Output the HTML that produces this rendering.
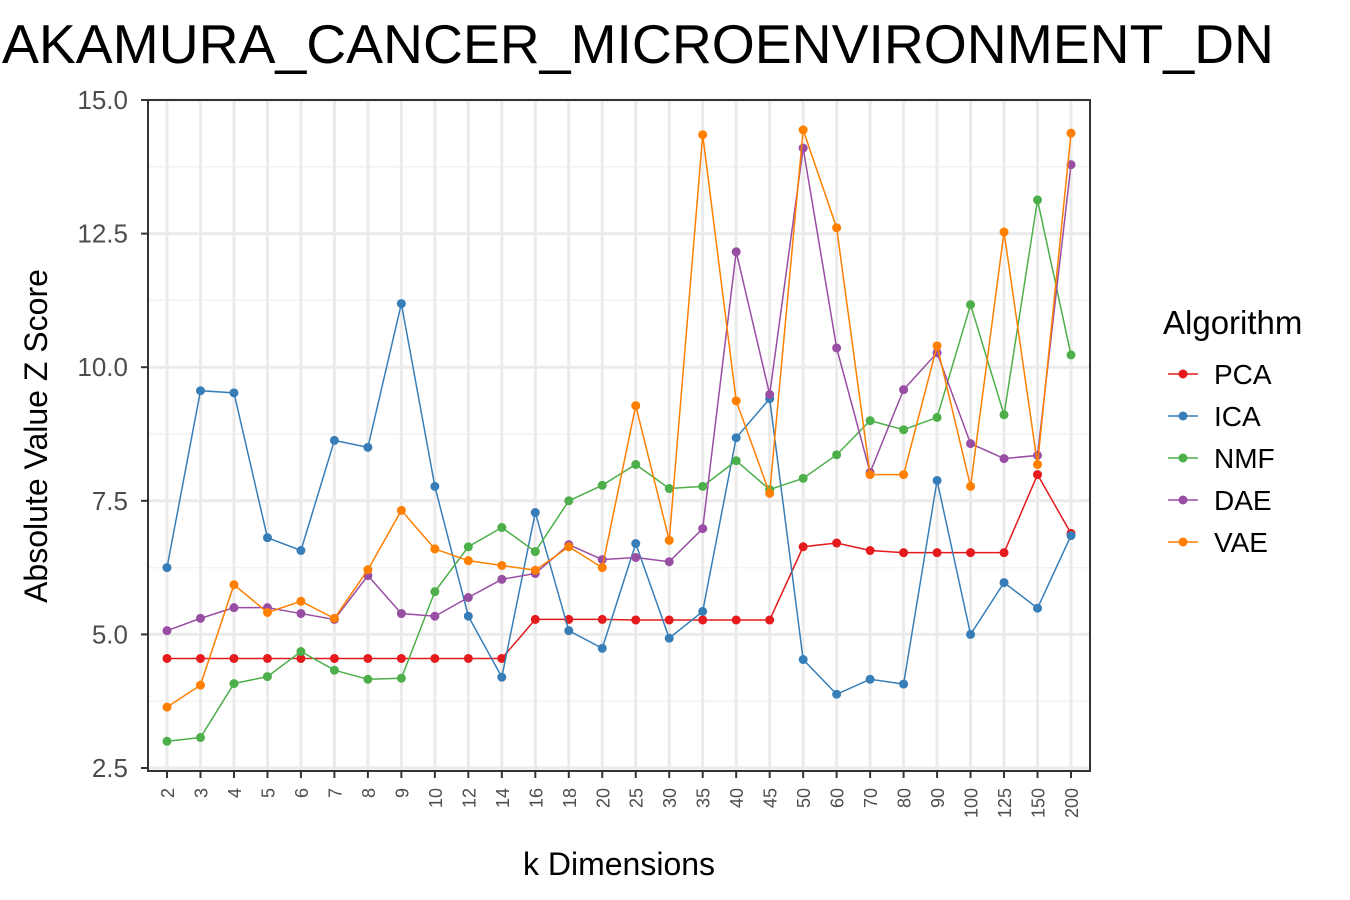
<!DOCTYPE html>
<html><head><meta charset="utf-8"><style>
html,body{margin:0;padding:0;background:#fff;}
svg{display:block;font-family:"Liberation Sans",Arial,sans-serif;}
</style></head><body>
<svg id="chart" width="1350" height="900" viewBox="0 0 1350 900" xmlns="http://www.w3.org/2000/svg">
<text x="2" y="63" font-size="55" textLength="1272" lengthAdjust="spacingAndGlyphs" fill="#000">AKAMURA_CANCER_MICROENVIRONMENT_DN</text>
<g id="grid"></g>
<g id="series"></g>
<rect x="148" y="100" width="942" height="671" fill="none" stroke="#333" stroke-width="2"/>
<g id="axes"></g>
<text transform="translate(47,436) rotate(-90)" text-anchor="middle" font-size="32" fill="#000">Absolute Value Z Score</text>
<text x="619" y="875" text-anchor="middle" font-size="32" fill="#000">k Dimensions</text>
<g id="legend">
<text x="1163" y="334" font-size="33" fill="#000">Algorithm</text>
</g>
</svg>
<script>
const categories=["2","3","4","5","6","7","8","9","10","12","14","16","18","20","25","30","35","40","45","50","60","70","80","90","100","125","150","200"];
const yTicks=[2.5,5.0,7.5,10.0,12.5,15.0];
const seriesNames=["PCA","ICA","NMF","DAE","VAE"];
const seriesColors=["#e41a1c","#377eb8","#4daf4a","#984ea3","#ff7f00"];
const pca=[4.55,4.55,4.55,4.55,4.55,4.55,4.55,4.55,4.55,4.55,4.55,5.28,5.28,5.28,5.27,5.27,5.27,5.27,5.27,6.64,6.71,6.57,6.53,6.53,6.53,6.53,7.99,6.89];
const ica=[6.25,9.56,9.52,6.81,6.57,8.63,8.5,11.19,7.77,5.34,4.2,7.28,5.07,4.74,6.7,4.93,5.43,8.68,9.41,4.53,3.88,4.16,4.07,7.88,5.0,5.97,5.49,6.85];
const nmf=[3.0,3.07,4.08,4.21,4.68,4.33,4.16,4.18,5.8,6.64,7.0,6.55,7.5,7.79,8.18,7.73,7.77,8.25,7.71,7.92,8.36,9.0,8.83,9.06,11.17,9.11,13.13,10.23];
const dae=[5.07,5.3,5.5,5.5,5.39,5.28,6.1,5.39,5.34,5.69,6.03,6.14,6.68,6.4,6.44,6.36,6.98,12.16,9.49,14.1,10.36,8.03,9.58,10.27,8.57,8.29,8.35,13.79];
const vae=[3.64,4.05,5.93,5.41,5.62,5.3,6.21,7.32,6.6,6.38,6.29,6.2,6.64,6.25,9.28,6.76,14.35,9.37,7.64,14.44,12.61,7.99,7.99,10.4,7.77,12.53,8.18,14.38];
const allSeries=[pca,ica,nmf,dae,vae];
const NS="http://www.w3.org/2000/svg";
const x=i=>167+i*(1071-167)/(categories.length-1);
const y=v=>100+(15-v)*(768-100)/12.5;
function mk(tag,attrs,parent){const e=document.createElementNS(NS,tag);for(const k in attrs)e.setAttribute(k,attrs[k]);parent.appendChild(e);return e;}
const grid=document.getElementById('grid'),axes=document.getElementById('axes'),ser=document.getElementById('series'),leg=document.getElementById('legend');
for(let i=0;i<yTicks.length-1;i++){const m=(yTicks[i]+yTicks[i+1])/2;const l=mk('line',{x1:149,x2:1089,y1:y(m),y2:y(m),stroke:'#f2f2f2','stroke-width':1.5},grid);

}
yTicks.forEach(t=>{const l=mk('line',{x1:149,x2:1089,y1:y(t),y2:y(t),stroke:'#ebebeb','stroke-width':3},grid);


const tk=mk('line',{x1:141,x2:148,y1:y(t),y2:y(t),stroke:'#333','stroke-width':2},axes);


const tx=mk('text',{x:128,y:y(t)+9,'text-anchor':'end','font-size':26,fill:'#4d4d4d'},axes);tx.textContent=t.toFixed(1);

});
categories.forEach((c,i)=>{const l=mk('line',{x1:x(i),x2:x(i),y1:101,y2:770,stroke:'#ebebeb','stroke-width':3},grid);


const tk=mk('line',{x1:x(i),x2:x(i),y1:771,y2:778,stroke:'#333','stroke-width':2},axes);


const tx=mk('text',{transform:`translate(${x(i)+7},788) rotate(-90)`,'text-anchor':'end','font-size':18,fill:'#4d4d4d'},axes);tx.textContent=c;

});
allSeries.forEach((s,k)=>{const g=mk('g',{},ser);


const p=mk('polyline',{points:s.map((v,i)=>x(i)+','+y(v)).join(' '),fill:'none',stroke:seriesColors[k],'stroke-width':1.5},g);


s.forEach((v,i)=>{const d=mk('circle',{cx:x(i),cy:y(v),r:4.5,fill:seriesColors[k]},g);

});
const ly=374+k*42;const e=mk('g',{},leg);


mk('line',{x1:1168,x2:1198,y1:ly,y2:ly,stroke:seriesColors[k],'stroke-width':1.5},e);
mk('circle',{cx:1183,cy:ly,r:4.5,fill:seriesColors[k]},e);
const t=mk('text',{x:1214,y:ly+10,'font-size':28,fill:'#000'},e);t.textContent=seriesNames[k];});
</script>
</body></html>
